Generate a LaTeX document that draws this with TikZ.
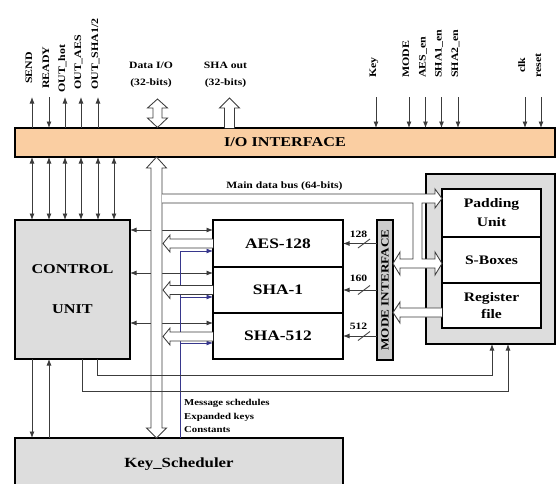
\documentclass[tikz,border=0pt]{standalone}
\usepackage{fontspec}
\setmainfont{Liberation Serif}[FakeStretch=1.2]
\usepackage{tikz}
\usetikzlibrary{arrows.meta,positioning,calc}
\definecolor{ioorange}{RGB}{250,206,162}
\definecolor{panelgray}{RGB}{221,221,221}
\definecolor{modegray}{RGB}{204,204,204}
\definecolor{wiregray}{RGB}{60,60,60}
\definecolor{keyblue}{RGB}{55,55,140}

\begin{document}
\begin{tikzpicture}[x=1pt, y=-1pt, >={Latex[length=6.5pt,width=5pt]},
    block/.style={rectangle, draw, line width=1.2pt, inner sep=0pt, outer sep=0pt, font=\bfseries\fontsize{14.5}{17}\selectfont},
    panel/.style={block, fill=panelgray},
    sig/.style={rotate=90, anchor=base west, inner ysep=0pt, font=\bfseries\fontsize{9.9}{11}\selectfont},
    tag/.style={inner sep=1pt, font=\bfseries\fontsize{9.7}{11}\selectfont},
    wire/.style={draw=wiregray, line width=0.85pt},
    blueline/.style={draw=keyblue, line width=0.85pt},
    fat/.style={draw=wiregray, line width=0.85pt, fill=white, line join=miter}
]
    \useasboundingbox (0,0) rectangle (557,483);

    \node[block, fill=ioorange, minimum width=540pt, minimum height=29pt, font=\bfseries\fontsize{13.5}{16}\selectfont] (io) at (285,142.5) {I/O INTERFACE};
    \node[panel, minimum width=115pt, minimum height=139pt, align=center, font=\bfseries\fontsize{13.5}{16}\selectfont] (ctrl) at (72.5,289.5) {CONTROL\\[24pt]UNIT};
    \node[block, minimum width=130pt, minimum height=47pt] (aes) at (278,243.5) {AES-128};
    \node[block, minimum width=130pt, minimum height=46pt, below=0pt of aes] (sha1) {SHA-1};
    \node[block, minimum width=130pt, minimum height=46pt, below=0pt of sha1] (sha512) {SHA-512};
    \node[block, fill=modegray, rotate=90, minimum width=140pt, minimum height=16pt, font=\bfseries\fontsize{11}{13}\selectfont] (mode) at (385,290) {MODE INTERFACE};
    \node[panel, minimum width=129pt, minimum height=170pt] (store) at (490.5,259) {};
    \node[block, fill=white, minimum width=99pt, minimum height=48pt, align=center, font=\bfseries\fontsize{13}{19}\selectfont] (pad) at (491.5,213) {Padding\\Unit};
    \node[block, fill=white, minimum width=99pt, minimum height=46pt, font=\bfseries\fontsize{13}{19}\selectfont, below=0pt of pad] (sbox) {S-Boxes};
    \node[block, fill=white, minimum width=99pt, minimum height=45pt, align=center, font=\bfseries\fontsize{13}{17}\selectfont, below=0pt of sbox] (reg) {Register\\file};
    \node[panel, minimum width=328pt, minimum height=52pt, font=\bfseries\fontsize{14}{16}\selectfont] (ks) at (179,464) {Key\_Scheduler};

    \node[sig, inner xsep=13pt] (send) at (32,97) {SEND};
    \node[sig, inner xsep=8pt] (ready) at (49,97) {READY};
    \node[sig, inner xsep=4pt] (outhot) at (65,97) {OUT\_hot};
    \node[sig, inner xsep=7pt] (outaes) at (81,97) {OUT\_AES};
    \node[sig, inner xsep=7pt] (outsha) at (98,97) {OUT\_SHA1/2};
    \coordinate (spare) at (114,97);
    \node[sig, inner xsep=19pt] (key) at (376,97) {Key};
    \node[sig, inner xsep=19pt] (modein) at (409,97) {MODE};
    \node[sig, inner xsep=19pt] (aesen) at (425.5,97) {AES\_en};
    \node[sig, inner xsep=19pt] (sha1en) at (441.5,97) {SHA1\_en};
    \node[sig, inner xsep=19pt] (sha2en) at (458,97) {SHA2\_en};
    \node[sig, inner xsep=24pt] (clk) at (525,97) {clk};
    \node[sig, inner xsep=19pt] (reset) at (541,97) {reset};

    \node[tag, align=center, font=\bfseries\fontsize{9.7}{17}\selectfont] (dio) at (151,74.5) {Data I/O\\(32-bits)};
    \node[tag, align=center, font=\bfseries\fontsize{9.7}{17}\selectfont] (shaout) at (225.5,74.5) {SHA out\\(32-bits)};
    \node[tag] (busl) at (284.5,186) {Main data bus (64-bits)};
    \node[tag, align=left, anchor=west, font=\bfseries\fontsize{9}{13.5}\selectfont] (msg) at (183,416) {Message schedules\\Expanded keys\\Constants};
    \node[tag] (w128) at (358.5,234) {128};
    \node[tag] (w160) at (358.5,278) {160};
    \node[tag] (w512) at (358.5,326) {512};

    \draw[wire,->] (send.base west |- io.north) -- (send.base west);
    \draw[wire,->] (ready.base west) -- (ready.base west |- io.north);
    \draw[wire,->] (outhot.base west |- io.north) -- (outhot.base west);
    \draw[wire,->] (outaes.base west |- io.north) -- (outaes.base west);
    \draw[wire,->] (outsha.base west |- io.north) -- (outsha.base west);
    \draw[wire,->] (key.base west) -- (key.base west |- io.north);
    \draw[wire,->] (modein.base west) -- (modein.base west |- io.north);
    \draw[wire,->] (aesen.base west) -- (aesen.base west |- io.north);
    \draw[wire,->] (sha1en.base west) -- (sha1en.base west |- io.north);
    \draw[wire,->] (sha2en.base west) -- (sha2en.base west |- io.north);
    \draw[wire,->] (clk.base west) -- (clk.base west |- io.north);
    \draw[wire,->] (reset.base west) -- (reset.base west |- io.north);

    \draw[wire,<->] (send.base west |- io.south) -- (send.base west |- ctrl.north);
    \draw[wire,<->] (ready.base west |- io.south) -- (ready.base west |- ctrl.north);
    \draw[wire,<->] (outhot.base west |- io.south) -- (outhot.base west |- ctrl.north);
    \draw[wire,<->] (outaes.base west |- io.south) -- (outaes.base west |- ctrl.north);
    \draw[wire,<->] (outsha.base west |- io.south) -- (outsha.base west |- ctrl.north);
    \draw[wire,<->] (spare |- io.south) -- (spare |- ctrl.north);

    \draw[wire,<->] (ctrl.east |- 0,230) -- (aes.west |- 0,230);
    \draw[wire,<->] (ctrl.east |- 0,273) -- (sha1.west |- 0,273);
    \draw[wire,<->] (ctrl.east |- 0,323) -- (sha512.west |- 0,323);
    \draw[blueline,->] (ks.north -| 180,0) -- (180,251) -- (aes.west |- 0,251);
    \draw[blueline,->] (180,297) -- (sha1.west |- 0,297);
    \draw[blueline,->] (180,343) -- (sha512.west |- 0,343);

    \draw[wire,->] (mode.north |- aes.east) -- (aes.east);
    \draw[wire,->] (mode.north |- sha1.east) -- (sha1.east);
    \draw[wire,->] (mode.north |- sha512.east) -- (sha512.east);
    \draw[wire] (358,248) -- (370,239);
    \draw[wire] (358,294.5) -- (370,285.5);
    \draw[wire] (358,340.5) -- (370,331.5);

    \draw[wire,->] (ctrl.south -| 32,0) -- (ks.north -| 32,0);
    \draw[wire,->] (ks.north -| 49,0) -- (ctrl.south -| 49,0);

    % wide buses
    \draw[fat] (157.5,99) -- (167.5,108) -- (162,108) -- (162,118) -- (167.5,118) -- (157.5,127.5) -- (147.5,118) -- (153,118) -- (153,108) -- (147.5,108) -- cycle;
    \draw[fat] (224.5,128) -- (224.5,108) -- (219.5,108) -- (229.5,98) -- (239.5,108) -- (234.5,108) -- (234.5,128);
    \draw[fat] (156.5,157) -- (166.5,168) -- (162,168) -- (162,428) -- (166.5,428) -- (156.5,438) -- (146.5,428) -- (151,428) -- (151,168) -- (146.5,168) -- cycle;
    \draw[fat] (162,194) -- (435,194) -- (435,189) -- (442,198.5) -- (435,208) -- (435,203) -- (422,203) -- (422,259) -- (435,259) -- (435,252) -- (442,263.5) -- (435,275) -- (435,268) -- (400,268) -- (400,275) -- (393,263.5) -- (400,252) -- (400,259) -- (413,259) -- (413,203) -- (162,203);
    \draw[fat] (442,308) -- (400,308) -- (400,302) -- (393,312.5) -- (400,323) -- (400,317) -- (442,317);
    \draw[fat] (213,239) -- (170,239) -- (170,235) -- (163,243.5) -- (170,252) -- (170,248) -- (213,248);
    \draw[fat] (213,285.5) -- (170,285.5) -- (170,281.5) -- (163,290) -- (170,298.5) -- (170,294.5) -- (213,294.5);
    \draw[fat] (213,332) -- (170,332) -- (170,328) -- (163,336.5) -- (170,345) -- (170,341) -- (213,341);

    \draw[wire,->] (ctrl.south -| 97,0) -- (97,375) -- (492,375) -- (store.south -| 492,0);
    \draw[wire,->] (ctrl.south -| 82,0) -- (82,391) -- (508,391) -- (store.south -| 508,0);
\end{tikzpicture}
\end{document}
